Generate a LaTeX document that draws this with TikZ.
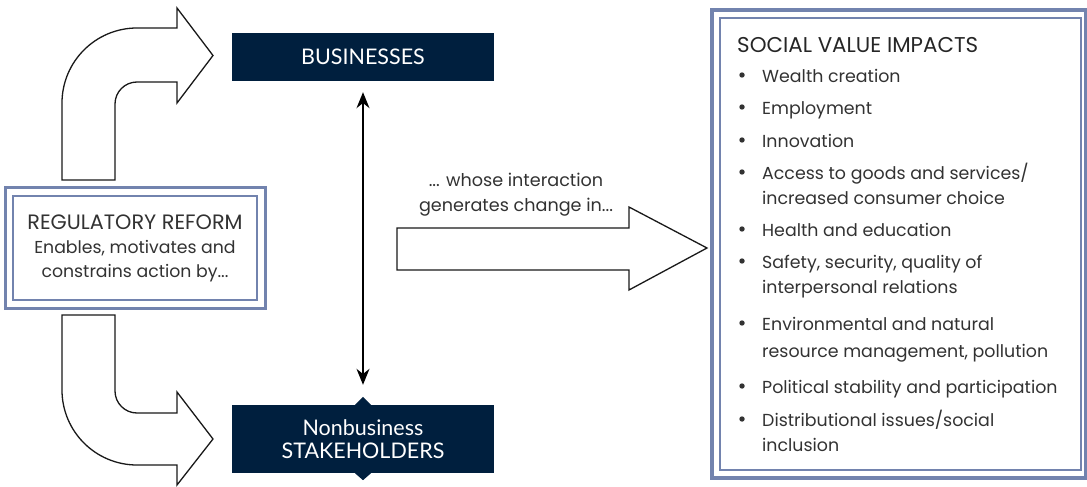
\documentclass[tikz,border=0pt]{standalone}
\usepackage{fontspec}
\setmainfont{Poppins}
\newfontfamily\boxfont{Lato}
\usetikzlibrary{arrows.meta}
\definecolor{frameblue}{RGB}{114,131,174}
\definecolor{navy}{RGB}{0,31,62}
\definecolor{txtgray}{RGB}{50,50,50}
\newcommand{\capsize}{\fontsize{20.8}{24}\selectfont}

\begin{document}
\begin{tikzpicture}[x=1pt, y=-1pt,
    hollow/.style={draw=black!90, line width=1.3pt, fill=white, line join=miter},
    darkbox/.style={fill=navy, text=white, font=\boxfont\fontsize{21.5}{23}\selectfont, align=center, inner sep=0pt, minimum width=262pt},
    entry/.style={anchor=base west, inner sep=0pt, text=txtgray, font=\fontsize{17.4}{20}\selectfont}]
    \useasboundingbox (0,0) rectangle (1087,487);

    % Regulatory reform box, double frame
    \node[draw=frameblue, line width=2pt, minimum width=244pt, minimum height=104pt, align=center,
          text=txtgray, font=\fontsize{17.3}{24}\selectfont] (reg) at (135,248)
        {{\capsize REGULATORY REFORM}\\Enables, motivates and\\constrains action by...};
    \draw[frameblue, line width=3pt] ([shift={(-7pt,7.5pt)}]reg.north west) rectangle ([shift={(7pt,-7.5pt)}]reg.south east);

    % Curved hollow arrows
    \draw[hollow] (62,180) -- (62,103) arc[start angle=180, end angle=270, radius=75] -- (177,28) -- (177,8)
        -- (213,55.5) -- (177,103) -- (177,82) -- (137,82) arc[start angle=270, end angle=180, radius=22] -- (115,180) -- cycle;
    \draw[hollow] (62,315) -- (62,390) arc[start angle=180, end angle=90, radius=75] -- (177,465) -- (177,485)
        -- (213,439) -- (177,392) -- (177,413) -- (137,413) arc[start angle=90, end angle=180, radius=22] -- (115,315) -- cycle;

    % Actors
    \node[darkbox, minimum height=48pt] (bus) at (363,57) {BUSINESSES};
    \node[darkbox, minimum height=68pt] (stake) at (363,439) {Nonbusiness\\STAKEHOLDERS};
    \fill[navy] ([xshift=-8pt]stake.north) -- ([yshift=8pt]stake.north) -- ([xshift=8pt]stake.north) -- cycle;
    \fill[navy] ([xshift=-8pt]stake.south) -- ([yshift=-7pt]stake.south) -- ([xshift=8pt]stake.south) -- cycle;
    \draw[{Stealth[length=16pt, width=13pt]}-{Stealth[length=16pt, width=13pt]}, line width=1.6pt]
        ([yshift=-11pt]bus.south) -- ([yshift=20pt]stake.north);

    % Interaction arrow
    \node[text=txtgray, align=center, font=\fontsize{17.6}{25}\selectfont] (inter) at (516,195)
        {... whose interaction\\generates change in...};
    \draw[hollow] (397,228) -- (629,228) -- (629,207) -- (707,248) -- (629,290) -- (629,270) -- (397,270) -- cycle;

    % Social value impacts box
    \node[draw=frameblue, line width=2.5pt, minimum width=361pt, minimum height=452pt] (impacts) at (900.5,244) {};
    \draw[frameblue, line width=4pt] ([shift={(-6.5pt,7pt)}]impacts.north west) rectangle ([shift={(4pt,-7pt)}]impacts.south east);
    \node[entry, text=black!85, font=\fontsize{21.4}{24}\selectfont] (title) at (737,53) {SOCIAL VALUE IMPACTS};
    \foreach \y/\t [count=\i] in {82/Wealth creation, 114/Employment, 147/Innovation,
        179/{Access to goods and services/}, 236/Health and education, 268/{Safety, security, quality of},
        330/Environmental and natural, 393/Political stability and participation, 426/{Distributional issues/social}}
    {
        \fill[txtgray] (742,\y-7) circle (2.7);
        \node[entry] (item\i) at (762,\y) {\t};
    }
    \foreach \y/\t [count=\i] in {204/increased consumer choice, 293/interpersonal relations,
        357/{resource management, pollution}, 451/inclusion}
        \node[entry] (more\i) at (762,\y) {\t};
\end{tikzpicture}
\end{document}
